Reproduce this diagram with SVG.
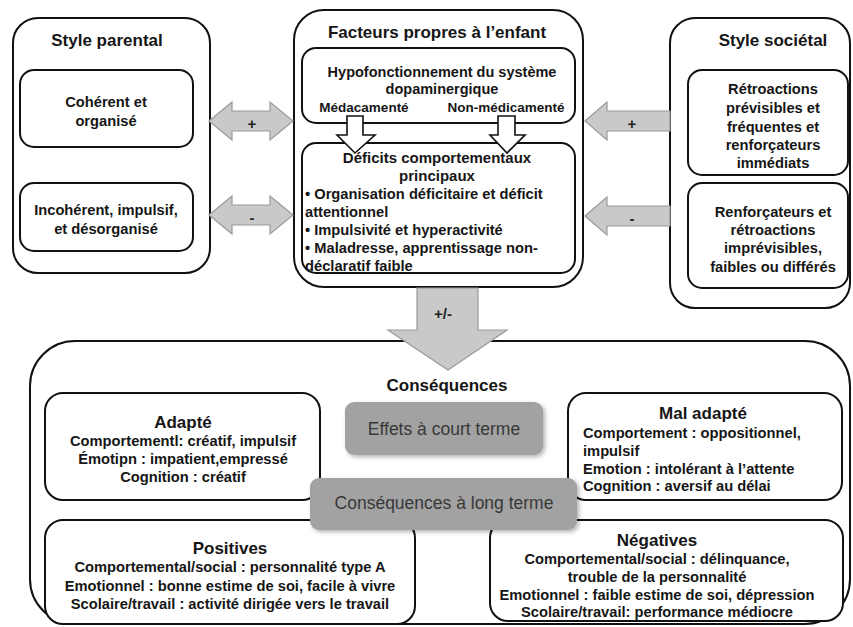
<svg xmlns="http://www.w3.org/2000/svg" width="853" height="627" viewBox="0 0 853 627">
<defs>
<style>
.box{fill:#fff;stroke:#111;stroke-width:2}
.gbox{fill:#a2a2a2;stroke:none}
.arr{fill:#c9c9c9;stroke:#9a9a9a;stroke-width:1.2}
.oarr{fill:#fff;stroke:#111;stroke-width:1.6}
text{font-family:"Liberation Sans",Arial,sans-serif;fill:#161616;dominant-baseline:central}
.t{font-size:17px;font-weight:bold;text-anchor:middle}
.b{font-size:14.7px;font-weight:bold;text-anchor:middle}
.l{font-size:14.7px;font-weight:bold;text-anchor:start}
.h{font-size:14.5px;font-weight:bold;text-anchor:middle}
.m{font-size:13.5px;font-weight:bold;text-anchor:middle}
.d{font-size:15px;font-weight:bold;text-anchor:middle}
.g{font-size:17.5px;font-weight:normal;text-anchor:middle;fill:#383838}
.s{font-size:15px;font-weight:bold;text-anchor:middle;fill:#222}
</style>
<filter id="sh" x="-10%" y="-20%" width="130%" height="150%">
<feDropShadow dx="2" dy="2" stdDeviation="2" flood-color="#000" flood-opacity="0.3"/>
</filter>
</defs>
<rect width="853" height="627" fill="#fff"/>

<g id="style-parental">
<rect class="box" x="13" y="18" width="197" height="255" rx="25"/>
<text class="t" x="107" y="40">Style parental</text>
</g>
<g id="coherent">
<rect class="box" x="20" y="70" width="173" height="77" rx="14"/>
<text class="b" x="106" y="102">Cohérent et</text>
<text class="b" x="106" y="121">organisé</text>
</g>
<g id="incoherent">
<rect class="box" x="20" y="183" width="173" height="68" rx="14"/>
<text class="b" x="106" y="210">Incohérent, impulsif,</text>
<text class="b" x="106" y="229">et désorganisé</text>
</g>

<g id="facteurs-enfant">
<rect class="box" x="294" y="10" width="289" height="277" rx="30"/>
<text class="t" x="437" y="32">Facteurs propres à l’enfant</text>
</g>
<g id="hypofonctionnement">
<rect class="box" x="302" y="48" width="273" height="75" rx="14"/>
<text class="h" x="442" y="72">Hypofonctionnement du système</text>
<text class="h" x="442" y="89">dopaminergique</text>
<text class="m" x="364" y="107">Médacamenté</text>
<text class="m" x="506" y="107">Non-médicamenté</text>
</g>
<g id="deficits">
<rect class="box" x="302" y="143" width="273" height="130" rx="14"/>
</g>

<g id="style-societal">
<rect class="box" x="670" y="18" width="180" height="290" rx="25"/>
<text class="t" x="773" y="40">Style sociétal</text>
</g>
<g id="retroactions">
<rect class="box" x="688" y="70" width="160" height="105" rx="14"/>
<text class="b" x="773" y="89">Rétroactions</text>
<text class="b" x="773" y="108">prévisibles et</text>
<text class="b" x="773" y="127">fréquentes et</text>
<text class="b" x="773" y="145">renforçateurs</text>
<text class="b" x="773" y="163">immédiats</text>
</g>
<g id="renforcateurs">
<rect class="box" x="688" y="183" width="160" height="105" rx="14"/>
<text class="b" x="773" y="212">Renforçateurs et</text>
<text class="b" x="773" y="230">rétroactions</text>
<text class="b" x="773" y="248">imprévisibles,</text>
<text class="b" x="773" y="267">faibles ou différés</text>
</g>

<g id="consequences">
<rect class="box" x="30" y="341" width="820" height="283" rx="45"/>
<text class="t" x="447" y="385">Conséquences</text>
</g>
<g id="adapte">
<rect class="box" x="45" y="393" width="275" height="107" rx="18"/>
<text class="t" x="183" y="422">Adapté</text>
<text class="b" x="183" y="441">Comportementl: créatif, impulsif</text>
<text class="b" x="183" y="459">Émotipn : impatient,empressé</text>
<text class="b" x="183" y="477">Cognition : créatif</text>
</g>
<g id="mal-adapte">
<rect class="box" x="568" y="393" width="274" height="107" rx="18"/>
<text class="t" x="703" y="413">Mal adapté</text>
<text class="l" x="583" y="433">Comportement : oppositionnel,</text>
<text class="l" x="583" y="451">impulsif</text>
<text class="l" x="583" y="469">Emotion : intolérant à l’attente</text>
<text class="l" x="583" y="486">Cognition : aversif au délai</text>
</g>
<g id="positives">
<rect class="box" x="45" y="520" width="370" height="104" rx="18"/>
<text class="t" x="230" y="548">Positives</text>
<text class="b" x="230" y="567">Comportemental/social : personnalité type A</text>
<text class="b" x="230" y="586">Emotionnel : bonne estime de soi, facile à vivre</text>
<text class="b" x="230" y="604">Scolaire/travail : activité dirigée vers le travail</text>
</g>
<g id="negatives">
<rect class="box" x="490" y="520" width="353" height="101" rx="18"/>
<text class="t" x="657" y="540">Négatives</text>
<text class="b" x="657" y="559">Comportemental/social : délinquance,</text>
<text class="b" x="657" y="577">trouble de la personnalité</text>
<text class="b" x="657" y="595">Emotionnel : faible estime de soi, dépression</text>
<text class="b" x="657" y="612">Scolaire/travail: performance médiocre</text>
</g>
<g id="effets-court-terme">
<rect class="gbox" x="345" y="402" width="198" height="53" rx="9" filter="url(#sh)"/>
<text class="g" x="444" y="429">Effets à court terme</text>
</g>
<g id="consequences-long-terme">
<rect class="gbox" x="310" y="478" width="267" height="52" rx="9" filter="url(#sh)"/>
<text class="g" x="444" y="503">Conséquences à long terme</text>
</g>

<g id="connectors">
<path class="arr" d="M209,121 L232,102 L232,111 L270,111 L270,102 L293,121 L270,140 L270,131 L232,131 L232,140 Z"/>
<text class="s" x="252" y="123">+</text>
<path class="arr" d="M209,215 L232,196 L232,205 L270,205 L270,196 L293,215 L270,234 L270,225 L232,225 L232,234 Z"/>
<text class="s" x="252" y="217">-</text>
<path class="arr" d="M585,121 L607,102 L607,111 L670,111 L670,131 L607,131 L607,140 Z"/>
<text class="s" x="632" y="123">+</text>
<path class="arr" d="M585,216 L607,197 L607,206 L670,206 L670,226 L607,226 L607,235 Z"/>
<text class="s" x="632" y="218">-</text>
<path class="oarr" d="M347,116 L363,116 L363,135 L375,135 L355,153 L337,135 L347,135 Z"/>
<path class="oarr" d="M498,116 L515,116 L515,135 L525,135 L507,153 L490,135 L498,135 Z"/>
<path class="arr" d="M417,288 L478,288 L478,330 L507,330 L448,370 L388,330 L417,330 Z"/>
<text class="s" x="443" y="313">+/-</text>
</g>

<g id="deficits-text">
<text class="d" x="437" y="157">Déficits comportementaux</text>
<text class="d" x="437" y="175">principaux</text>
<text class="l" x="305" y="194">• Organisation déficitaire et déficit</text>
<text class="l" x="305" y="212">attentionnel</text>
<text class="l" x="305" y="230">• Impulsivité et hyperactivité</text>
<text class="l" x="305" y="248">• Maladresse, apprentissage non-</text>
<text class="l" x="305" y="266">déclaratif faible</text>
</g>
</svg>
